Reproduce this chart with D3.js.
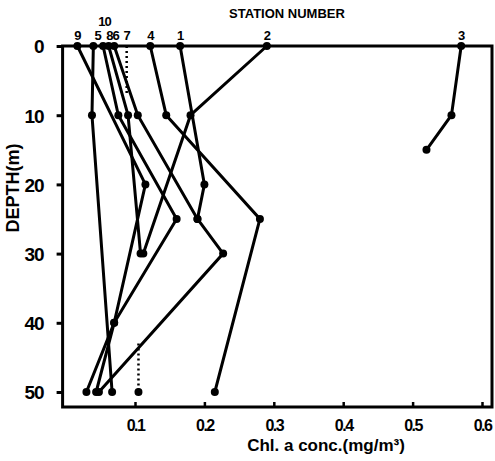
<!DOCTYPE html>
<html>
<head>
<meta charset="utf-8">
<script src="https://cdn.jsdelivr.net/npm/d3@7"></script>
<style>
  body { margin: 0; background: #fff; }
  text { font-family: "Liberation Sans", Arial, sans-serif; font-weight: bold; fill: #000; }
</style>
</head>
<body>
<div id="chart"></div>
<script>
// depth (m) and Chl. a (mg/m3) per station
const st9 = [[0, 0.017], [20, 0.115], [40, 0.07], [50, 0.03]];
const st5 = [[0, 0.04], [10, 0.038], [50, 0.067]];
const st10 = [[0, 0.054], [10, 0.076], [25, 0.16], [40, 0.07], [50, 0.044]];
const st8 = [[0, 0.062], [10, 0.09], [30, 0.108]];
const st6 = [[0, 0.07], [10, 0.104], [25, 0.19]];
const st4 = [[0, 0.122], [10, 0.145], [25, 0.28], [50, 0.215]];
const st1 = [[0, 0.165], [20, 0.2], [25, 0.19], [30, 0.227], [50, 0.048]];
const st2 = [[0, 0.29], [10, 0.18], [30, 0.112]];
const st3 = [[0, 0.57], [10, 0.556], [15, 0.52]];
// dotted fragments (station 7)
const st7top = [[0, 0.088], [7, 0.088]];
const st7bottom = [[43, 0.105], [50, 0.105]];

const stationNames = ["9", "10", "5", "8", "6", "7", "4", "1", "2", "3"];
const stationAt = [0.017, 0.056, 0.046, 0.063, 0.072, 0.088, 0.122, 0.165, 0.29, 0.57];

const xTicks = [0.1, 0.2, 0.3, 0.4, 0.5, 0.6];
const xTickLabels = ["0.1", "0.2", "0.3", "0.4", "0.5", "0.6"];
const yTicks = [0, 10, 20, 30, 40, 50];

const solid = [st9, st5, st10, st8, st6, st4, st1, st2, st3];

let dim = {width: 495, height: 461};
let svg = d3.select('#chart').append('svg')
  .attr('width', dim.width).attr('height', dim.height);

let x = d3.scaleLinear().domain([0, 0.6]).range([65.6, 482]);
let y = d3.scaleLinear().domain([0, 50]).range([46, 392]);

// frame
svg.append('path')
  .attr('d', `M${x(0) - 3},${y(0)} H492 V407 H${x(0) - 3} Z`)
  .attr('fill', 'none').attr('stroke', '#000').attr('stroke-width', 3);

let axisY = d3.axisLeft(y).tickValues(yTicks).tickSize(6).tickFormat(d3.format('d'));
svg.append('g').attr('transform', `translate(${x(0) - 3},0)`).call(axisY)
  .call(g => g.select('.domain').remove())
  .call(g => g.selectAll('line').attr('stroke-width', 3))
  .call(g => g.selectAll('text').attr('font-size', 19).attr('x', -19).attr('dy', '0.36em')
    .attr('letter-spacing', -1));

let axisX = d3.axisBottom(x).tickValues(xTicks).tickSize(5)
  .tickFormat((d, i) => xTickLabels[i]);
svg.append('g').attr('transform', 'translate(0,407)').call(axisX)
  .call(g => g.select('.domain').remove())
  .call(g => g.selectAll('line').attr('y2', -5).attr('stroke-width', 2.5))
  .call(g => g.selectAll('text').attr('font-size', 16).attr('y', 13).attr('letter-spacing', -1.5));

let line = d3.line().x(d => x(d[1])).y(d => y(d[0]));

svg.selectAll('path.st').data(solid).enter().append('path')
  .attr('class', 'st').attr('d', line)
  .attr('fill', 'none').attr('stroke', '#000').attr('stroke-width', 3);

svg.selectAll('path.dot').data([st7top, st7bottom]).enter().append('path')
  .attr('class', 'dot').attr('d', line)
  .attr('fill', 'none').attr('stroke', '#000').attr('stroke-width', 2.5)
  .attr('stroke-dasharray', '2,3');

let pts = solid.flat().concat([st7bottom[1]]);
svg.selectAll('circle').data(pts).enter().append('circle')
  .attr('cx', d => x(d[1])).attr('cy', d => y(d[0])).attr('r', 4).attr('fill', '#000');

svg.selectAll('text.lab').data(stationNames).enter().append('text')
  .attr('class', 'lab')
  .attr('x', (d, i) => x(stationAt[i])).attr('y', d => d === "10" ? 26 : 40)
  .attr('text-anchor', 'middle').attr('font-size', 13).attr('letter-spacing', -1).text(d => d);

svg.append('text').attr('x', 287).attr('y', 18).attr('text-anchor', 'middle')
  .attr('font-size', 13).text('STATION   NUMBER');

svg.append('text').attr('x', 326).attr('y', 451).attr('text-anchor', 'middle')
  .attr('font-size', 17).text('Chl. a   conc.(mg/m³)');

svg.append('text').attr('transform', 'translate(19,188) rotate(-90)')
  .attr('text-anchor', 'middle').attr('font-size', 18).text('DEPTH(m)');
</script>
</body>
</html>
